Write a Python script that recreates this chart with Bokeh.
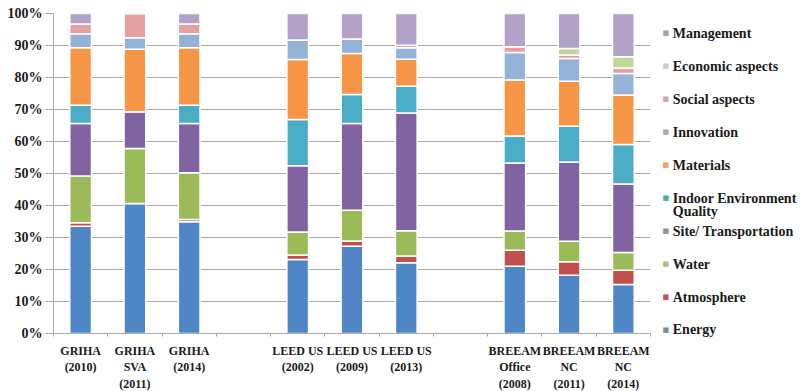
from bokeh.plotting import figure
from bokeh.models import Range1d, FixedTicker, ColumnDataSource, PrintfTickFormatter
from bokeh.core.properties import value
from bokeh.embed import file_html
from bokeh.resources import INLINE

# ---------------- data (percent of total credits) ----------------
categories = ["GRIHA\n(2010)", "GRIHA\nSVA\n(2011)", "GRIHA\n(2014)",
              "LEED US\n(2002)", "LEED US\n(2009)", "LEED US\n(2013)",
              "BREEAM\nOffice\n(2008)", "BREEAM\nNC\n(2011)", "BREEAM\nNC\n(2014)"]

series = ["Energy", "Atmosphere", "Water", "Site/ Transportation",
          "Indoor Environment\nQuality", "Materials", "Innovation",
          "Social aspects", "Economic aspects", "Management"]

energy      = [33.5, 40.6, 34.9, 23.1, 27.3, 22.1, 21.0, 18.2, 15.3]
atmosphere  = [1.1, 0.0, 0.7, 1.4, 1.6, 2.15, 5.0, 4.2, 4.5]
water       = [14.6, 17.2, 14.6, 7.25, 9.6, 7.85, 6.0, 6.4, 5.5]
site        = [16.4, 11.5, 15.4, 20.65, 27.1, 36.8, 21.3, 24.8, 21.4]
ieq         = [5.7, 0.0, 5.7, 14.5, 9.1, 8.4, 8.45, 11.2, 12.4]
materials   = [18.0, 19.5, 18.0, 18.7, 12.8, 8.4, 17.45, 14.0, 15.4]
innovation  = [4.4, 3.6, 4.4, 6.1, 4.5, 3.6, 8.6, 7.1, 6.75]
social      = [3.0, 7.6, 3.0, 0.0, 0.0, 0.8, 1.8, 1.1, 1.75]
economic    = [0.0, 0.0, 0.0, 0.0, 0.0, 0.0, 0.0, 2.1, 3.5]
management  = [3.3, 0.0, 3.3, 8.3, 8.0, 9.9, 10.4, 10.9, 13.5]

y_ticks = [0, 10, 20, 30, 40, 50, 60, 70, 80, 90, 100]

# ---------------- styles ----------------
colors = ["#4F86C6", "#C0504D", "#9BBB59", "#8064A2", "#4BACC6",
          "#F79646", "#95B3D7", "#E5A0A0", "#C3D69B", "#B3A2C7"]
legend_colors = ["#7A8AA6", "#C05060", "#B4BA8A", "#94929E", "#3FB0A2",
                 "#F2A060", "#A9AAB6", "#D6A2AC", "#C9CBC6", "#A4A0AE"]
FONT = value("Liberation Serif")
GRID = "#A8A8A8"

keys = ["energy", "atmosphere", "water", "site", "ieq", "materials",
        "innovation", "social", "economic", "management"]
values_ = [energy, atmosphere, water, site, ieq, materials,
           innovation, social, economic, management]

slots = [i + i // 3 for i in range(len(categories))]   # leave an empty slot between groups
xs = [s + 0.5 for s in slots]
data = {"x": xs}
for k, v in zip(keys, values_):
    data[k] = v
source = ColumnDataSource(data)

p = figure(frame_width=597, frame_height=320, output_backend="svg",
           toolbar_location=None,
           x_range=Range1d(0, 11), y_range=Range1d(0, 100),
           min_border_left=53, min_border_right=154, min_border_top=13,
           min_border_bottom=56)
p.outline_line_color = None
p.background_fill_color = "white"
p.border_fill_color = "white"

p.vbar_stack(keys, x="x", width=0.4, source=source, color=colors,
             line_color="white", line_width=1.5)

# x axis
p.xaxis.ticker = FixedTicker(ticks=xs, minor_ticks=list(range(12)))
p.xaxis.major_label_overrides = {x: c for x, c in zip(xs, categories)}
p.xaxis.major_tick_line_color = None
p.xaxis.major_tick_out = 0
p.xaxis.major_tick_in = 0
p.xaxis.minor_tick_line_color = GRID
p.xaxis.minor_tick_in = 0
p.xaxis.minor_tick_out = 3
p.xaxis.axis_line_color = GRID
p.xaxis.major_label_text_font = "Liberation Serif"
p.xaxis.major_label_text_font_style = "bold"
p.xaxis.major_label_text_font_size = "12px"
p.xaxis.major_label_text_color = "#1a1a1a"
p.xaxis.major_label_text_line_height = 1.2
p.xaxis.major_label_standoff = 7
p.xgrid.visible = False

# y axis
p.yaxis.ticker = FixedTicker(ticks=y_ticks, minor_ticks=[])
p.yaxis.formatter = PrintfTickFormatter(format="%d%%")
p.yaxis.major_tick_line_color = GRID
p.yaxis.major_tick_in = 0
p.yaxis.major_tick_out = 8
p.yaxis.axis_line_color = GRID
p.yaxis.major_label_text_font = "Liberation Serif"
p.yaxis.major_label_text_font_style = "bold"
p.yaxis.major_label_text_font_size = "14px"
p.yaxis.major_label_text_color = "#1a1a1a"
p.yaxis.major_label_standoff = 3
p.ygrid.ticker = FixedTicker(ticks=y_ticks)
p.ygrid.grid_line_color = GRID

# legend (drawn to the right of the plot frame, top item = last series)
order = list(range(len(series)))[::-1]
leg_y = [93.8 - i * 10.3 for i in range(len(series))]
p.text(x=[11.28] * len(series), y=leg_y, text=["\u25A0"] * len(series),
       text_font=value("DejaVu Sans"), text_font_size="7px",
       text_baseline="middle", text_align="center",
       text_color=[legend_colors[k] for k in order], level="overlay")
tx, ty, tt = [], [], []
for i, k in enumerate(order):
    for j, line in enumerate(series[k].split("\n")):
        tx.append(11.41)
        ty.append(leg_y[i] - j * 4.1)
        tt.append(line)
p.text(x=tx, y=ty, text=tt, text_font=FONT, text_font_style="bold",
       text_font_size="14px", text_baseline="middle", text_align="left",
       text_color="#1a1a1a", level="overlay")

open("out.html", "w").write(file_html(p, INLINE))
